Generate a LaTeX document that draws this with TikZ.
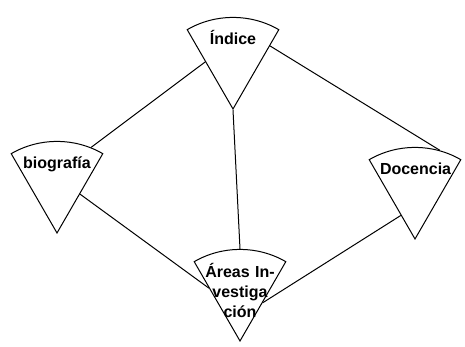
\documentclass[tikz,border=0pt]{standalone}
\usepackage{fontspec}
\setmainfont{Liberation Sans}
\usetikzlibrary{shapes.geometric}

\begin{document}
\begin{tikzpicture}[
  x=1pt, y=-1pt,
  sector/.style={
    circular sector, circular sector angle=60, shape border rotate=270,
    draw=black, line width=1pt, inner sep=0.5pt,
    text width=70pt, text height=20pt, text depth=2pt, align=center,
    font=\fontsize{16}{20}\selectfont\bfseries
  },
  link/.style={line width=1pt, draw=black}
]
\useasboundingbox (0,0) rectangle (465,347);
% Sectors
\node[sector] (indice)    at (233,36)  {Índice};
\node[sector] (biografia) at (57,160)  {biografía};
\node[sector, shape border rotate=273] (docencia) at (415,166) {Docencia};
\node[sector] (areas)     at (240,268) {Áreas In-\\vestiga\\ción};
% Links
\draw[link] (indice.223)           -- (biografia.21);
\draw[link] (indice.345)           -- (docencia.33);
\draw[link] (indice.sector center) -- (areas.90);
\draw[link] (biografia.-56)        -- (areas.213);
\draw[link] (docencia.254)         -- (areas.-57);
\end{tikzpicture}
\end{document}
